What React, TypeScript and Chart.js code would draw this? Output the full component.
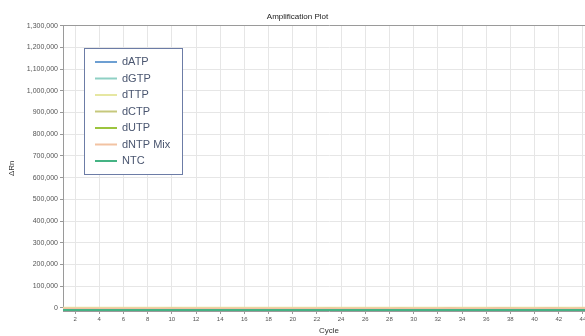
import React, { useEffect, useRef } from "react";
import { Chart, registerables } from "chart.js";

Chart.register(...registerables);

const cycles = [1,2,3,4,5,6,7,8,9,10,11,12,13,14,15,16,17,18,19,20,21,22,23,24,25,26,27,28,29,30,31,32,33,34,35,36,37,38,39,40,41,42,43,44,45];

const seriesNames = ["dATP", "dGTP", "dTTP", "dCTP", "dUTP", "dNTP Mix", "NTC"];
const seriesColors = ["#6d9fd2", "#8fd0c4", "#e6e7a2", "#c6c87c", "#9cc43e", "#f2c3a2", "#45b384"];

const dATP = [-3200,-3100,-3300,-3000,-2900,-3100,-3200,-3000,-2800,-2900,-3100,-3000,-2900,-3200,-3300,-3100,-2900,-2800,-3000,-3100,-3200,-3000,-2900,-2700,-2800,-3000,-3100,-2900,-2800,-2600,-2700,-2900,-3000,-2800,-2700,-2900,-3000,-2800,-2600,-2700,-2900,-3000,-2800,-2700,-2900];
const dGTP = [-1500,-1700,-1600,-1400,-1500,-1800,-1600,-1500,-1300,-1400,-1600,-1700,-1500,-1400,-1600,-1500,-1300,-1400,-1600,-1700,-1500,-1400,-1200,-1300,-1500,-1600,-1400,-1300,-1500,-1400,-1200,-1300,-1500,-1600,-1400,-1300,-1500,-1400,-1200,-1300,-1400,-1500,-1300,-1200,-1400];
const dTTP = [800,600,700,900,800,600,500,700,800,900,700,600,800,700,500,600,800,900,700,600,800,700,900,1000,800,700,600,800,900,700,800,1000,900,700,800,900,1100,900,800,700,900,1000,800,900,1000];
const dCTP = [-4500,-4600,-4400,-4700,-4500,-4300,-4600,-4500,-4400,-4200,-4500,-4600,-4400,-4300,-4500,-4700,-4500,-4400,-4300,-4600,-4500,-4400,-4200,-4300,-4500,-4600,-4400,-4300,-4100,-4300,-4500,-4400,-4200,-4300,-4500,-4400,-4200,-4100,-4300,-4400,-4200,-4100,-4300,-4400,-4200];
const dUTP = [-6200,-6000,-6300,-6100,-5900,-6200,-6300,-6100,-6000,-5800,-6100,-6200,-6000,-5900,-6100,-6300,-6100,-6000,-5800,-5900,-6100,-6200,-6000,-5800,-5900,-6100,-6000,-5800,-5700,-5900,-6000,-5800,-5700,-5900,-6100,-5900,-5800,-5600,-5800,-5900,-5700,-5600,-5800,-5900,-5700];
const dNTPMix = [-2300,-2500,-2200,-2400,-2600,-2300,-2200,-2400,-2500,-2300,-2100,-2300,-2400,-2200,-2100,-2300,-2500,-2300,-2200,-2000,-2200,-2400,-2300,-2100,-2000,-2200,-2300,-2100,-2000,-2200,-2300,-2100,-1900,-2100,-2200,-2000,-1900,-2100,-2200,-2000,-1900,-2000,-2100,-1900,-2000];
const NTC = [-9500,-9400,-9600,-9300,-9500,-9700,-9400,-9300,-9500,-9600,-9400,-9200,-9400,-9500,-9300,-9200,-9400,-9600,-9400,-9300,-9100,-9300,-9400,-9200,-9100,-9300,-9500,-9300,-9100,-9200,-9400,-9300,-9100,-9000,-9200,-9300,-9100,-9000,-9200,-9300,-9100,-9000,-9100,-9200,-9000];

const seriesValues = [dATP, dGTP, dTTP, dCTP, dUTP, dNTPMix, NTC];

const yTickMax = 1300000;
const yTickStep = 100000;
const xTickStep = 2;

const FONT = "'Liberation Sans', Arial, sans-serif";

const boxLegend = {
  id: "boxLegend",
  afterDatasetsDraw(chart: any) {
    const ctx = chart.ctx;
    const x0 = 84, y0 = 48, w = 98, h = 126;
    ctx.save();
    ctx.fillStyle = "#ffffff";
    ctx.fillRect(x0, y0, w, h);
    ctx.strokeStyle = "#6c7ca6";
    ctx.lineWidth = 1;
    ctx.strokeRect(x0 + 0.5, y0 + 0.5, w, h);
    ctx.font = `11px ${FONT}`;
    ctx.textBaseline = "middle";
    chart.data.datasets.forEach((ds: any, i: number) => {
      const y = 62 + i * 16.5;
      ctx.strokeStyle = ds.borderColor;
      ctx.lineWidth = 2;
      ctx.beginPath();
      ctx.moveTo(95, y);
      ctx.lineTo(117, y);
      ctx.stroke();
      ctx.fillStyle = "#4a5670";
      ctx.fillText(ds.label, 122, y);
    });
    ctx.restore();
  },
};

export default function App() {
  const ref = useRef<HTMLCanvasElement>(null);
  useEffect(() => {
    if (!ref.current) return;
    const datasets = seriesNames.map((name, i) => ({
      label: name,
      data: cycles.map((c, j) => ({ x: c, y: seriesValues[i][j] })),
      borderColor: seriesColors[i],
      backgroundColor: seriesColors[i],
      borderWidth: 2,
      pointRadius: 0,
      tension: 0,
      order: seriesNames.length - i,
    }));
    const chart = new Chart(ref.current, {
      type: "line",
      data: { datasets },
      options: {
        responsive: false,
        animation: false,
        layout: { padding: { left: 0, right: 5, top: 0, bottom: 0 } },
        plugins: {
          legend: { display: false },
          tooltip: { enabled: false },
          title: {
            display: true,
            text: "Amplification Plot",
            color: "#222",
            font: { family: FONT, size: 8, weight: "normal" },
            padding: { top: 12, bottom: 4 },
          },
        },
        scales: {
          x: {
            type: "linear",
            min: 1,
            max: 45,
            afterBuildTicks(scale: any) {
              const t: any[] = [];
              for (let v = xTickStep; v < scale.max; v += xTickStep) t.push({ value: v });
              scale.ticks = t;
            },
            afterFit(scale: any) {
              scale.height = 25;
            },
            ticks: {
              autoSkip: false,
              maxRotation: 0,
              color: "#555",
              font: { family: FONT, size: 6 },
              padding: 2,
            },
            grid: { color: "#e6e6e6", tickLength: 3, tickColor: "#999" },
            border: { color: "#9a9a9a" },
            title: {
              display: true,
              text: "Cycle",
              color: "#333",
              font: { family: FONT, size: 8 },
              padding: { top: 0, bottom: 0 },
            },
          },
          y: {
            min: -14000,
            max: yTickMax,
            afterBuildTicks(scale: any) {
              const t: any[] = [];
              for (let v = 0; v <= yTickMax; v += yTickStep) t.push({ value: v });
              scale.ticks = t;
            },
            afterFit(scale: any) {
              scale.width = 63;
            },
            ticks: {
              color: "#555",
              font: { family: FONT, size: 7 },
              padding: 2,
              callback: (v: any) => Number(v).toLocaleString("en-US"),
            },
            grid: {
              color: (c: any) => (c.tick && c.tick.value === yTickMax ? "#9a9a9a" : "#e6e6e6"),
              tickLength: 3,
              tickColor: "#999",
            },
            border: { color: "#9a9a9a" },
            title: {
              display: true,
              text: "ΔRn",
              color: "#333",
              font: { family: FONT, size: 8 },
              padding: { top: 7, bottom: 0 },
            },
          },
        },
      },
      plugins: [boxLegend],
    });
    return () => chart.destroy();
  }, []);
  return (
    <div style={{ position: "absolute", left: 0, top: 0, width: 585, height: 336, overflow: "hidden", background: "#fff" }}>
      <canvas ref={ref} width={600} height={336} style={{ display: "block" }} />
    </div>
  );
}
